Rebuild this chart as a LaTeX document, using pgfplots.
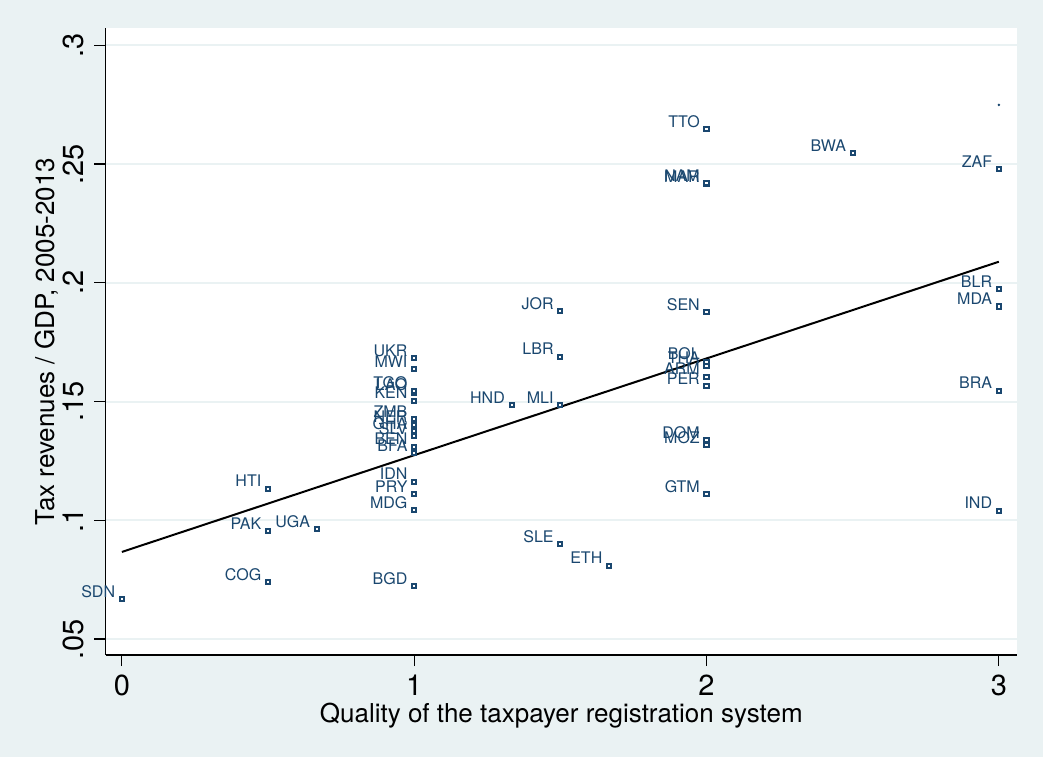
\documentclass[border=0pt]{standalone}
\usepackage{pgfplots}
\usepackage{pgfplotstable}
\pgfplotsset{compat=1.18}
\usepackage{fontspec}
\setmainfont{TeX Gyre Heros}

\definecolor{stnavy}{RGB}{26,71,111}
\definecolor{stbg}{RGB}{234,242,243}

% Registration quality score vs. average tax revenue share of GDP
\pgfplotstableread{
x      y       name
0      0.0668  SDN
0.5    0.0739  COG
0.5    0.0955  PAK
0.5    0.1133  HTI
0.6667 0.0963  UGA
1      0.0724  BGD
1      0.1044  MDG
1      0.1110  PRY
1      0.1163  IDN
1      0.1283  BFA
1      0.1310  BEN
1      0.1355  SLV
1      0.1377  GHA
1      0.1403  NER
1      0.1426  ZMB
1      0.1504  KEN
1      0.1538  LAO
1      0.1546  TGO
1      0.1637  MWI
1      0.1683  UKR
1.3333 0.1486  HND
1.5    0.0899  SLE
1.5    0.1484  MLI
1.5    0.1689  LBR
1.5    0.1882  JOR
1.6667 0.0809  ETH
2      0.1111  GTM
2      0.1317  MOZ
2      0.1339  DOM
2      0.1566  PER
2      0.1605  ARM
2      0.1652  THA
2      0.1668  BOL
2      0.1876  SEN
2      0.2417  MAR
2      0.2421  NAM
2      0.2647  TTO
2.5    0.2547  BWA
3      0.1041  IND
3      0.1546  BRA
3      0.1900  MDA
3      0.1973  BLR
3      0.2478  ZAF
}\countries

\begin{document}
\begin{tikzpicture}
\fill[stbg] (0,0) rectangle (521.5pt,378.5pt);
\begin{axis}[
  at={(52.75pt,51pt)}, anchor=south west,
  scale only axis, width=455.75pt, height=313.5pt,
  xmin=-0.056, xmax=3.062, ymin=0.0433, ymax=0.3073,
  axis background/.style={fill=white},
  axis x line*=bottom, axis y line*=left,
  axis line style={black, line width=0.6pt, -},
  clip=false,
  scaled ticks=false,
  xtick={0,1,2,3}, xticklabels={0,1,2,3},
  ytick={0.05,0.1,0.15,0.2,0.25,0.3},
  yticklabels={.05,.1,.15,.2,.25,.3},
  tick align=outside, major tick length=5.5pt,
  tick style={black, line width=0.6pt},
  ymajorgrids,
  major grid style={stbg, line width=1pt},
  ticklabel style={font=\fontsize{14.5}{16}\selectfont},
  xticklabel style={anchor=base}, xticklabel shift=14.5pt,
  yticklabel style={rotate=90, anchor=base}, yticklabel shift=5.5pt,
  xlabel={Quality of the taxpayer registration system},
  ylabel={Tax revenues / GDP, 2005-2013},
  label style={font=\fontsize{13}{15}\selectfont},
  xlabel style={at={(axis description cs:0.5,-0.1069)}, anchor=base},
  ylabel style={at={(axis description cs:-0.0555,0.5)}, anchor=base},
]
% fitted values
\addplot[black, line width=1pt] coordinates {(0,0.0867) (3,0.2089)};
% countries
\addplot[
  only marks, mark=square*, mark size=1.05pt,
  mark options={draw=stnavy, fill=white, line width=1pt},
  point meta=explicit symbolic,
  nodes near coords,
  every node near coord/.append style={anchor=base east, inner sep=0pt,
    xshift=-2.9pt, yshift=0.9pt, text=stnavy,
    font=\fontsize{8}{9}\selectfont},
] table[x=x, y=y, meta=name] {\countries};
% unlabelled observation
\addplot[only marks, mark=*, mark size=0.4pt, stnavy] coordinates {(3,0.2749)};
\end{axis}
\pgfresetboundingbox
\useasboundingbox (0,0) rectangle (521.5pt,378.5pt);
\end{tikzpicture}
\end{document}
